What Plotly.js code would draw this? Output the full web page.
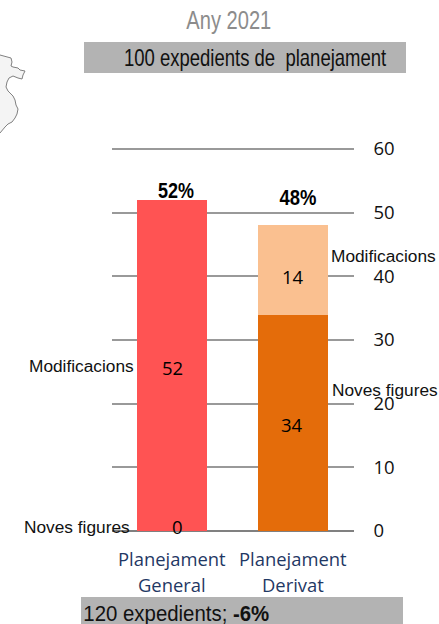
<!DOCTYPE html>
<html>
<head>
<meta charset="utf-8">
<script src="https://cdn.plot.ly/plotly-3.0.1.min.js"></script>
<style>html,body{margin:0;padding:0;background:#fff;overflow:hidden}</style>
</head>
<body>
<div id="chart" style="width:439px;height:624px"></div>
<script>
var categories = ["Planejament General", "Planejament Derivat"];
var categoryLine1 = ["Planejament", "Planejament"];
var categoryLine2 = ["General", "Derivat"];
var novesFigures = [0, 34];
var modificacions = [52, 14];
var shares = ["52%", "48%"];
var tickValues = [0, 10, 20, 30, 40, 50, 60];
var colorsNoves = ["#ff5353", "#e46c0a"];
var colorsMod = ["#ff5353", "#fac090"];
var mapX = [0, 4, 7, 11, 12, 11, 13, 18, 20, 25, 23, 22, 18, 13, 9, 7, 6, 8, 13, 15, 16, 18, 17, 15, 12, 8, 5, 2, 0];
var mapY = [55, 56, 57, 58, 62, 66, 67, 68, 70, 71, 75, 79, 78, 76, 78, 82, 87, 91, 96, 100, 105, 109, 114, 118, 122, 124, 127, 131, 133];

var W = 439, H = 624;
var sans = '"Liberation Sans", Arial, sans-serif';
var open = '"Open Sans", sans-serif';

function pageText(x, y, text, font, size, color, anchor) {
  return {xref: 'x2', yref: 'y2', x: x, y: y, text: text, showarrow: false,
    xanchor: anchor || 'center', yanchor: 'middle',
    font: {family: font, size: size, color: color}};
}

var traces = [
  {type: 'bar', name: 'Noves figures', x: categories, y: novesFigures,
   marker: {color: colorsNoves}, width: 0.58, hoverinfo: 'x+y+name'},
  {type: 'bar', name: 'Modificacions', x: categories, y: modificacions,
   marker: {color: colorsMod}, width: 0.58, hoverinfo: 'x+y+name'},
  {type: 'scatter', mode: 'lines', x: mapX, y: mapY, xaxis: 'x2', yaxis: 'y2',
   fill: 'tozerox', fillcolor: '#f4f4f4', line: {color: '#808080', width: 1}, hoverinfo: 'skip'}
];

var annotations = [
  pageText(228.5, 20, 'Any 2021', sans, 25, '#8c8c8c'),
  pageText(255.5, 58, '100 expedients de  planejament', sans, 23, '#111'),
  pageText(176, 613, '120 expedients; <b>-6%</b>', sans, 22, '#111'),
  pageText(176, 190, '<b>' + shares[0] + '</b>', sans, 22, '#000'),
  pageText(297.5, 197, '<b>' + shares[1] + '</b>', sans, 22, '#000'),
  pageText(81, 366, 'Modificacions', sans, 17.3, '#111'),
  pageText(77, 527, 'Noves figures', sans, 17.3, '#111'),
  pageText(383.5, 256, 'Modificacions', sans, 17.3, '#111'),
  pageText(384.5, 390, 'Noves figures', sans, 17.3, '#111'),
  pageText(172, 558, categoryLine1[0], open, 18.4, '#1f3864'),
  pageText(172, 584, categoryLine2[0], open, 18.4, '#1f3864'),
  pageText(293, 558, categoryLine1[1], open, 18.4, '#1f3864'),
  pageText(293, 584, categoryLine2[1], open, 18.4, '#1f3864'),
  pageText(177, 526, String(novesFigures[0]), open, 18.5, '#000'),
  pageText(172, 367, String(modificacions[0]), open, 18.5, '#000'),
  pageText(292, 424, String(novesFigures[1]), open, 18.5, '#000'),
  pageText(293, 276, String(modificacions[1]), open, 18.5, '#000')
];
// annotation index -> glyph width measured in the reference (its text is condensed)
var condensedWidths = {0: 85, 1: 263, 2: 186, 3: 36, 4: 37};

var layout = {
  width: W, height: H, autosize: false, showlegend: false,
  margin: {l: 0, r: 0, t: 0, b: 0, pad: 0},
  paper_bgcolor: '#fff', plot_bgcolor: 'rgba(0,0,0,0)',
  barmode: 'stack',
  font: {family: open, size: 17, color: '#000'},
  xaxis: {domain: [111.5 / W, 353.5 / W], type: 'category', range: [-0.5, 1.5],
    showticklabels: false, ticks: '', showgrid: false, zeroline: false, showline: false, fixedrange: true},
  yaxis: {domain: [(H - 531) / H, (H - 145.8) / H], range: [0, 60.5], side: 'right', anchor: 'x',
    tickvals: tickValues, ticks: '', ticklabelstandoff: 19,
    tickfont: {family: open, size: 18.5, color: '#111'},
    showgrid: true, gridcolor: '#999999', gridwidth: 2,
    zeroline: true, zerolinecolor: '#808080', zerolinewidth: 2, showline: false, fixedrange: true},
  xaxis2: {domain: [0, 1], range: [0, W], visible: false, anchor: 'y2', fixedrange: true},
  yaxis2: {domain: [0, 1], range: [H, 0], visible: false, anchor: 'x2', fixedrange: true},
  shapes: [
    {type: 'rect', xref: 'x2', yref: 'y2', x0: 84, x1: 406, y0: 42, y1: 73, fillcolor: '#b3b3b3', line: {width: 0}, layer: 'below'},
    {type: 'rect', xref: 'x2', yref: 'y2', x0: 81, x1: 403, y0: 597, y1: 624, fillcolor: '#b3b3b3', line: {width: 0}, layer: 'below'}
  ],
  annotations: annotations
};

Plotly.newPlot('chart', traces, layout, {displayModeBar: false, staticPlot: true}).then(function () {
  document.querySelectorAll('.annotation').forEach(function (g) {
    var target = condensedWidths[g.getAttribute('data-index')];
    var t = g.querySelector('text');
    if (!target || !t) return;
    var b = t.getBBox();
    var cx = b.x + b.width / 2;
    t.setAttribute('transform', 'translate(' + cx + ',0) scale(' + (target / b.width) + ',1) translate(' + (-cx) + ',0)');
  });
});
</script>
</body>
</html>
